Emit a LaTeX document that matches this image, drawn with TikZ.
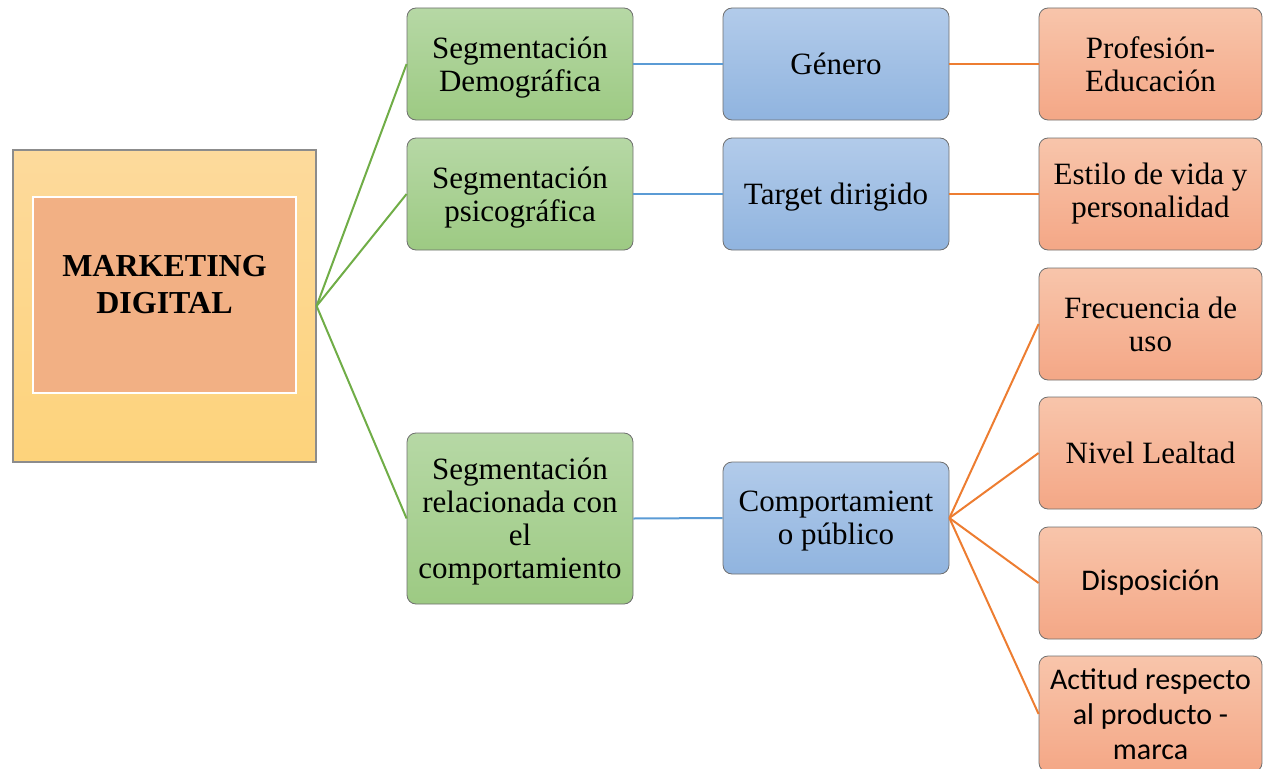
\documentclass[tikz,border=0pt]{standalone}
\usepackage{fontspec}
\setmainfont{Liberation Serif}
\newfontfamily\calib{Carlito}
\definecolor{gtop}{HTML}{B6D8A5}
\definecolor{gbot}{HTML}{9DCA83}
\definecolor{btop}{HTML}{B2CBEA}
\definecolor{bbot}{HTML}{90B4DF}
\definecolor{otop}{HTML}{F8C5AB}
\definecolor{obot}{HTML}{F4A786}
\definecolor{ytop}{HTML}{FDDA9C}
\definecolor{ybot}{HTML}{FDD37B}
\definecolor{inner}{HTML}{F2B084}
\definecolor{bord}{HTML}{6F6F6F}
\definecolor{gline}{HTML}{70AD47}
\definecolor{bline}{HTML}{5B9BD5}
\definecolor{oline}{HTML}{ED7D31}
\tikzset{
  box/.style={draw=bord, line width=0.8pt, rounded corners=9pt, minimum width=226pt, minimum height=112pt, align=center, inner sep=2pt, font=\fontsize{31}{33}\selectfont},
  gbox/.style={box, top color=gtop, bottom color=gbot, text depth=0pt},
  bbox/.style={box, top color=btop, bottom color=bbot, text depth=0pt},
  obox/.style={box, top color=otop, bottom color=obot, minimum width=223pt},
  glink/.style={draw=gline, line width=2pt},
  blink/.style={draw=bline, line width=2pt},
  olink/.style={draw=oline, line width=2pt}
}
\begin{document}
\begin{tikzpicture}[x=1pt,y=-1pt]
\useasboundingbox (0,0) rectangle (1263,768);
\clip (0,0) rectangle (1263,768);
% main box
\node[draw=bord!80, line width=1.2pt, top color=ytop, bottom color=ybot, minimum width=303pt, minimum height=312pt, inner sep=0pt] (main) at (164.5,306) {};
\node[draw=white, line width=2.5pt, fill=inner, minimum width=263pt, minimum height=196pt, align=center, inner sep=0pt, text depth=22pt, font=\fontsize{32}{37}\selectfont\bfseries] (inn) at (164.5,295) {MARKETING\\DIGITAL};
% green
\node[gbox] (g1) at (520,64) {Segmentación\\Demográfica};
\node[gbox] (g2) at (520,194) {Segmentación\\psicográfica};
\node[gbox, minimum height=171pt] (g3) at (520,518.5) {Segmentación\\relacionada con\\el\\comportamiento};
% blue
\node[bbox] (b1) at (836,64) {Género};
\node[bbox] (b2) at (836,194) {Target dirigido};
\node[bbox] (b3) at (836,518) {Comportamient\\o público};
% orange
\node[obox] (o1) at (1150.5,64) {Profesión-\\Educación};
\node[obox] (o2) at (1150.5,194) {Estilo de vida y\\personalidad};
\node[obox] (o3) at (1150.5,324) {Frecuencia de\\uso};
\node[obox] (o4) at (1150.5,453) {Nivel Lealtad};
\node[obox, font=\calib\fontsize{30}{35}\selectfont] (o5) at (1150.5,583) {Disposición};
\node[obox, font=\calib\fontsize{30}{35}\selectfont, minimum height=116pt] (o6) at (1150.5,714) {Actitud respecto\\al producto -\\marca};
% links
\draw[glink] (main.east) -- (g1.west);
\draw[glink] (main.east) -- (g2.west);
\draw[glink] (main.east) -- (g3.west);
\draw[blink] (g1.east) -- (b1.west);
\draw[blink] (g2.east) -- (b2.west);
\draw[blink] (g3.east) -- (b3.west);
\draw[olink] (b1.east) -- (o1.west);
\draw[olink] (b2.east) -- (o2.west);
\draw[olink] (b3.east) -- (o3.west);
\draw[olink] (b3.east) -- (o4.west);
\draw[olink] (b3.east) -- (o5.west);
\draw[olink] (b3.east) -- (o6.west);
\end{tikzpicture}
\end{document}
